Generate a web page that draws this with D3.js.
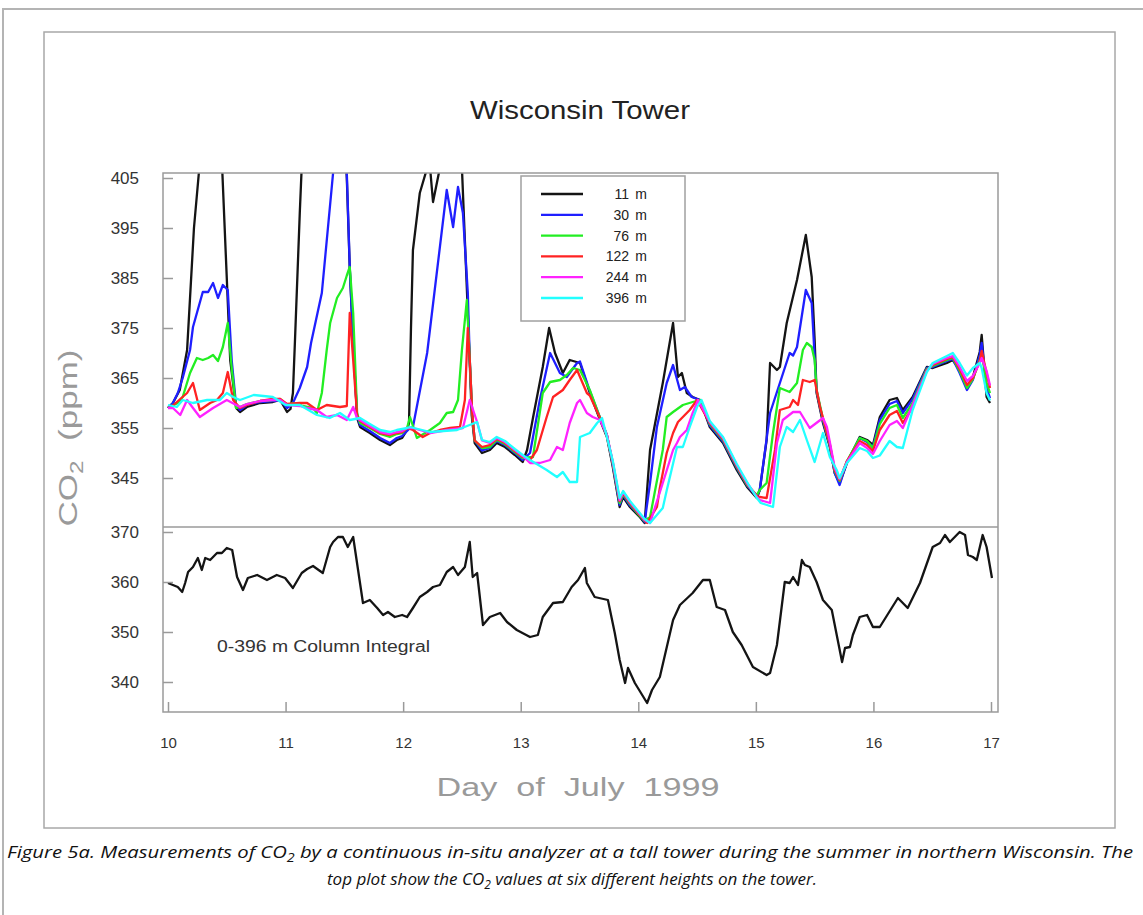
<!DOCTYPE html>
<html>
<head>
<meta charset="utf-8">
<script src="https://cdn.jsdelivr.net/npm/d3@7/dist/d3.min.js"></script>
<style>
  body { margin: 0; background: #fff; }
  svg { display: block; font-family: "Liberation Sans", Arial, Helvetica, sans-serif; }
</style>
</head>
<body>
<svg id="chart" width="1143" height="915"></svg>
<script>
// ---- data: [hours since July 10 00:00, CO2 ppm] ----
const dayTicks = [10, 11, 12, 13, 14, 15, 16, 17];
const topTicks = [345, 355, 365, 375, 385, 395, 405];
const bottomTicks = [340, 350, 360, 370];
const heights = ["11 m", "30 m", "76 m", "122 m", "244 m", "396 m"];
const colors = ["#141414", "#1f1fff", "#22ee22", "#ff2222", "#ff22ff", "#22ffff"];

const s11m = [[0,359],[1,360],[2.4,362.6],[3.9,370.6],[5.3,395],[6.3,406],[7,415],[9,425],[10.5,415],[11.1,406],[12.7,368.6],[13.9,359],[14.7,358.2],[16.1,359.2],[18.8,360],[21.4,360.2],[22.9,360.6],[24.3,358.2],[25,358.8],[25.5,362],[25.9,372],[26.9,398],[27.5,412],[28.5,425],[30,430],[33,435],[35.5,425],[36.5,405],[37.1,387],[37.8,372],[38.6,357],[39.2,355.2],[41.2,354],[43.3,352.6],[45.3,351.6],[46.7,352.6],[47.8,353],[48.8,354.6],[49.2,356],[49.6,375],[50,390.6],[51.4,402],[52.9,407],[53.5,407],[54.1,400.2],[55.5,407],[57,420],[59,420],[60,407],[61,383],[61.6,368],[62,357.5],[62.6,352],[64.1,350],[65.7,350.6],[67.1,352],[68.8,351.2],[70.8,349.6],[72.4,348.2],[73.3,350.6],[74.5,357],[76.5,367.2],[77.8,375],[79,370],[80.6,366],[82,368.6],[84.1,368],[86.1,362],[88.2,356.6],[89.6,353.2],[90.8,347.2],[92.2,339.2],[92.9,341.2],[94.3,339.2],[96.3,337.2],[97.3,336],[98.4,350.6],[101,364],[103.1,376],[104.1,365.2],[104.9,366],[105.9,362],[107.1,361.2],[108.6,360.6],[110.6,355.2],[113.3,352],[116.1,346.6],[118.2,343.2],[120.2,341],[120.8,342.6],[122.2,352.6],[122.9,368],[124.3,366.6],[124.9,367.2],[126.3,376],[128.4,384.6],[130.2,393.6],[131.4,385.2],[132,372.6],[132.4,362],[133.7,356],[135.1,351.2],[136.1,346],[137.1,344],[138.6,348],[141.2,353.2],[142.7,352.6],[143.9,351.6],[145.3,357.2],[147.3,360.6],[148.8,361],[150,358.6],[152,361.2],[154.9,367.2],[156.1,367],[159,368],[160.2,368.6],[161.6,366.6],[163.1,363.2],[164.3,365.2],[165.7,370.2],[166.1,373.6],[167.1,361.2],[167.8,360]];

const s30m = [[0,359],[1,360],[2,362],[3,365],[4.5,370.6],[5.1,375.2],[7.1,382.2],[8.2,382.2],[9.2,384],[10.2,381],[11.2,383.6],[12.2,382.6],[13,368.6],[13.9,359.5],[14.7,358.6],[16.1,359.6],[18.8,360.2],[21.4,360.4],[22.9,360.6],[24.3,359],[25.5,360],[26.9,363],[28.4,367.2],[29.2,372],[31.4,382],[33.7,406],[35,415],[36.5,406],[37.1,387.2],[37.8,372],[38.6,357.5],[39.2,355.6],[41.2,354.4],[43.3,353],[45.3,352],[46.7,353],[47.8,353.4],[48.8,354.4],[49.4,355],[50,355.2],[52.9,370],[56.9,402.6],[58.2,395.2],[59.2,403.2],[60.2,398],[61.2,382],[61.6,368.6],[62.1,358],[62.6,352.5],[64.1,350.5],[65.7,351],[67.1,352.4],[68.8,351.6],[70.8,350],[72.4,348.6],[73.9,350],[75.9,360.6],[78,370],[80,366],[81.4,365.2],[83.5,368],[84.1,368.3],[86.1,362.4],[88.2,357],[89.6,353.6],[90.8,347.6],[92.2,339.6],[92.9,341.6],[94.3,339.5],[96.3,337.5],[97.3,336.2],[98.4,344],[99.8,355.2],[101.8,364],[103.1,367.6],[104.5,362.6],[105.5,363.2],[106.9,361.2],[108.6,360.6],[110.6,355.5],[113.3,352.3],[116.1,347],[118.2,343.5],[120.2,341.3],[120.8,342.6],[122.9,358],[124.9,364],[126.9,370],[127.6,369.5],[128.4,371.2],[130.2,382.6],[131.4,380],[132,369.2],[132.4,362.4],[133.7,356.4],[135.1,351.4],[136.1,346],[137.1,343.6],[138.6,348.2],[141.2,353],[142.7,352.2],[143.9,351.2],[145.3,356.6],[147.3,359.8],[148.8,360.4],[150,358],[152,360.8],[154.9,367],[156.1,367.2],[159,368.4],[160.2,368.8],[161.6,366],[163.1,362.6],[164.3,364.6],[165.7,369.6],[166.1,372],[167.1,363],[167.8,361]];

const s76m = [[0,359],[1,359.5],[2,360],[3,361.2],[4.5,366],[5.9,369],[7.1,368.6],[8.2,369],[9.2,369.6],[10.2,368.4],[11.2,371.2],[12.2,376],[13,367],[13.9,359],[14.7,359.2],[16.1,359.8],[18.8,360.4],[21.4,360.6],[22.9,360.8],[24.3,359.6],[25.5,360],[27.3,359.5],[29.6,359],[30.4,358],[31.4,362],[32.4,370.6],[33.1,376],[34.5,381],[35.7,383],[36.5,385.5],[37.1,387.2],[37.8,378],[38.6,358],[39.2,356],[41.2,355],[43.3,353.8],[45.3,353.2],[46.7,353.8],[47.8,354],[48.8,355],[49.4,357.2],[50.8,353],[53.5,354.6],[55.5,356],[56.9,358],[58.2,358.2],[59.2,360.6],[60,370.6],[61,380.6],[61.6,368.6],[62.1,358],[62.6,352.5],[64.1,351],[65.7,351.2],[67.1,352.6],[68.8,351.8],[70.8,350.2],[72.4,349],[74.5,349.2],[76.5,362],[78,364.2],[80,364.6],[81.4,365.6],[82.7,367],[84.1,366.6],[86.1,362.6],[88.2,357],[89.6,353.5],[90.8,347.8],[92.2,340],[92.9,341.8],[94.3,339.8],[96.3,337.4],[97.3,336.4],[98.4,337.2],[101,350.6],[101.8,357.2],[103.1,358.2],[105.1,359.6],[107.1,360.2],[108.6,360.6],[110.6,355.8],[113.3,352.6],[116.1,347.2],[118.2,343.6],[120.2,341.6],[120.8,342.6],[122.2,344],[123.5,354],[124.9,363],[126.9,362.2],[128.4,364],[129.6,370.6],[130.4,372],[131.4,371.2],[132,368.6],[132.4,362.6],[133.7,356.8],[135.1,351.6],[136.1,346.4],[137.1,344.4],[138.6,348.4],[141.2,353],[142.7,352.4],[143.9,351],[145.3,355.8],[147.3,359],[148.8,359.6],[150,357],[152,360],[154.9,366.8],[156.1,367.4],[159,368.6],[160.2,369],[161.6,366.4],[163.1,363],[164.3,364.8],[165.7,368.6],[166.1,370],[167.1,364],[167.8,362]];

const s122m = [[0,359],[1,359.5],[3.9,362],[5.1,364],[6.5,358.6],[8.6,360],[10,360.6],[11.2,362],[12.2,366.2],[13.3,360.6],[14.7,359],[16.1,359.6],[18.8,360.4],[21.4,360.8],[22.9,360.8],[24.3,359.8],[26.9,360],[28.4,360],[30.4,358.6],[32.4,359.6],[35.1,359.2],[36.5,359.4],[37.1,378],[37.8,368.6],[38.6,357.5],[39.2,356.4],[41.2,355.2],[43.3,354],[45.3,353.6],[46.7,354],[47.8,354.2],[48.8,355],[50,354.6],[52,353.2],[53.5,354],[55.5,354.6],[57.6,355],[59.6,355.2],[60.6,360.6],[61.2,375],[61.6,368.6],[62.1,358],[62.6,352.5],[64.1,351.2],[65.7,351.6],[67.1,352.8],[68.8,352],[70.8,350.4],[72.4,349.2],[73.9,348.6],[75.3,350.6],[77.3,357.2],[78.6,361.2],[80.6,362.6],[82,364.6],[83.5,366.6],[85.5,362],[86.1,361.5],[88.2,357],[89.6,353.5],[90.8,348],[92.2,340.4],[92.9,342],[94.3,340],[96.3,337.6],[97.8,336],[99.8,339.2],[100.4,343],[101.8,350],[103.1,354],[104.1,356.2],[105.1,357.2],[106.5,358.6],[108,360.6],[110.6,356],[113.3,352.8],[116.1,347.4],[118.2,343.8],[120.2,341.4],[120.8,341.2],[122.2,341],[123.9,350.6],[124.9,358.6],[126.9,359.2],[127.6,360.6],[128.6,359.6],[129.6,364.6],[131,364.2],[132,364.6],[133.1,359.2],[133.7,357],[135.1,351.8],[136.1,346.6],[137.1,344.6],[138.6,348.4],[141.2,352.4],[142.7,351.6],[143.9,350.4],[145.3,354.6],[147.3,357.6],[148.8,358.4],[150,356],[152,359.2],[154.9,366.6],[156.1,367.6],[159,368.8],[160.2,369.2],[161.6,366.8],[163.1,363.6],[164.3,365],[165.7,368.4],[166.1,370.4],[167.1,366],[167.8,363]];

const s244m = [[0,359],[1,359],[2.5,357.6],[3.9,360.6],[5.1,359],[6.5,357.2],[9.2,359],[12,360.6],[14.7,359.2],[16.1,359.8],[18.8,360.4],[21.4,360.6],[22.9,360.6],[24.3,359.6],[26.9,359.4],[28.4,359],[30.4,358.6],[32.4,357.2],[34.5,357.6],[36.5,356.6],[37.8,359.2],[38.6,357],[39.2,356.6],[41.2,355.4],[43.3,354.2],[45.3,353.8],[46.7,354.2],[47.8,354.4],[48.8,355],[50,355],[53.5,354],[57,354.6],[60.2,355],[61.6,360.6],[63.1,356.2],[64.1,352.5],[65.7,352],[67.1,353],[68.8,352.2],[70.8,350.6],[72.4,349.4],[73.9,348],[75.9,348],[78,348.6],[79.4,351.2],[80.6,350.6],[82,356],[83.5,360],[84.1,360.6],[85.5,358],[86.7,357.2],[88.2,356.6],[89.6,353.6],[90.8,348.2],[92.2,340.6],[92.9,342.2],[94.3,340.2],[96.3,337.8],[97.3,336.6],[98.4,336],[101,344],[101.8,346.5],[103.1,350.6],[103.9,352],[104.5,353.2],[105.9,354.6],[107.1,358],[108.2,360.6],[110.6,356.2],[113.3,353],[116.1,347.6],[118.2,344],[120.2,341.2],[120.8,340.6],[122.9,340],[124.3,352],[125.5,356.6],[127.6,358.2],[129,358.2],[131,355],[133.7,357],[134.5,355.2],[135.1,352.2],[136.1,347],[137.1,344.8],[138.6,348.2],[141.2,352],[142.7,351],[143.9,349.8],[145.3,352.4],[147.3,355.6],[148.8,356.4],[150,355],[152,359.6],[154.9,366.4],[156.1,367.8],[159,369],[160.2,369.4],[161.6,367.2],[163.1,364.4],[164.3,365.4],[165.7,368],[166.1,369],[167.1,366.4],[167.8,363.5]];

const s396m = [[0,359.6],[1.8,359.2],[3,360.6],[5.1,360],[8,360.6],[10.6,360.6],[12,362],[13.3,361.2],[14.7,360.6],[17.5,361.6],[21.4,361.2],[24,359.6],[26.9,359.6],[30.4,357.6],[33,357],[35.1,358],[37.1,356.6],[39.2,357],[41.2,355.8],[43.3,354.6],[45.3,354.2],[46.7,354.6],[47.8,354.8],[48.8,355],[49.4,355.2],[53.5,354.2],[59,354.6],[63.1,356.2],[64.1,352.6],[65.7,352.2],[67.1,353.2],[68.8,352.4],[70.8,350.8],[72.4,349.6],[73.9,348.6],[77.3,346.6],[79.4,345.2],[80.6,346.2],[82,344.2],[83.5,344.2],[84.1,353.2],[86.1,354],[87.6,356],[88.6,357],[89.6,353.2],[90.8,348.4],[92.2,341],[92.9,342.4],[94.3,340.4],[96.3,338],[97.3,336.8],[98.4,336],[101,339],[101.8,342.5],[103.9,351.2],[105.1,351.2],[106.5,355.2],[108,359.2],[108.9,360.6],[110.6,356.4],[113.3,353.2],[116.1,347.8],[118.2,344.2],[120.2,341],[121,340],[123.5,339.2],[124.9,351.2],[126.3,355.2],[127.6,354.2],[129,356.6],[130.4,352.6],[132,348.2],[133.7,354],[135.1,349.2],[136.5,346.6],[137.1,345],[138.6,348],[141.2,351],[142.7,350.4],[143.9,349],[145.3,349.5],[147.3,352.4],[148.8,351.2],[150,351],[152,358.6],[154.9,366.2],[156.1,368],[159,369.4],[160.2,370],[161.6,368],[163.1,365.5],[164.3,367],[165.7,368],[166.1,367],[167.1,362],[167.8,360.5]];

const columnIntegral = [[0,359.8],[1,359.4],[2,359],[2.9,358],[3.5,359.8],[4.1,362],[5.1,363],[6.1,364.8],[6.9,362.4],[7.6,364.8],[8.6,364.4],[10,365.8],[11,365.8],[12,366.8],[13.1,366.4],[14.1,361],[15.3,358.4],[16.3,360.8],[18.2,361.4],[20.2,360.4],[22.2,361.4],[23.9,360.8],[25.5,358.8],[27.3,361.8],[28.4,362.6],[29.6,363.2],[31.6,361.8],[33.1,367],[33.7,368],[34.7,369],[35.7,369],[36.7,367],[37.8,369],[38.8,362.4],[39.8,355.8],[41.2,356.4],[42.7,354.8],[43.9,353.4],[44.9,354],[46.3,353],[47.8,353.4],[48.8,353],[50,354.8],[51.4,357],[52.9,358],[54.1,359],[55.5,359.4],[56.9,362],[58.2,363],[59.2,361.4],[60.6,363],[61.6,368],[62.2,361],[63.1,361.8],[64.3,351.4],[65.7,353],[67.8,353.8],[69.2,352],[71.2,350.4],[73.9,349],[75.5,349.4],[76.5,353],[78.6,355.8],[80.6,356],[82.4,359],[83.7,360.4],[85.1,362.8],[85.5,359.8],[87.1,357],[89.8,356.4],[91.2,349.8],[92.2,344.4],[93.3,339.8],[93.9,342.8],[95.3,339.8],[97.8,335.8],[98.8,338.4],[100.4,341],[103.1,352.4],[104.5,355.4],[107.1,357.8],[109.2,360.4],[110.6,360.4],[112,355],[113.7,354.4],[115.3,350],[117.1,347.4],[119.4,343],[122.2,341.4],[122.9,341.8],[124.3,347.4],[125.9,360],[126.9,359.8],[127.6,361],[128.6,359.4],[129.4,364.4],[130,363.4],[131,363],[132.4,360],[133.7,356.4],[135.5,354.4],[137.6,344],[138.2,346.8],[139.2,347],[139.8,349.4],[141.2,353],[142.7,353.4],[143.9,351],[145.3,351],[149,356.8],[151,354.8],[153.5,359.8],[156.1,367],[157.6,367.8],[158.6,369.4],[159.6,368],[161.6,370],[162.7,369.4],[163.3,365.4],[164.3,365],[165.1,364.4],[166.3,369.4],[167.1,367],[168.2,360.8]];

const topSeries = [s11m, s30m, s76m, s122m, s244m, s396m];

// ---- layout ----
const svg = d3.select("#chart");
const L = 163, R = 998, T = 173, MID = 527, B = 712;

const x = d3.scaleLinear().domain([10, 17]).range([168, 991]);
const yTop = d3.scaleLinear().domain([345, 405]).range([478, 178]);
const yBot = d3.scaleLinear().domain([340, 370]).range([682, 532]);
const toDay = h => 10 + h / 24;

// outer page frame and figure box
svg.append("rect").attr("x", 3).attr("y", 9).attr("width", 1200).attr("height", 1000)
  .attr("fill", "none").attr("stroke", "#b4b4b4").attr("stroke-width", 2);
svg.append("rect").attr("x", 44).attr("y", 32).attr("width", 1071).attr("height", 796)
  .attr("fill", "#fff").attr("stroke", "#a8a8a8").attr("stroke-width", 1.5);

// title
svg.append("text").attr("x", 580).attr("y", 119).attr("text-anchor", "middle")
  .attr("font-size", 26).attr("fill", "#222").attr("textLength", 220)
  .attr("lengthAdjust", "spacingAndGlyphs").text("Wisconsin Tower");

// clip paths
const defs = svg.append("defs");
defs.append("clipPath").attr("id", "clipTop").append("rect")
  .attr("x", L).attr("y", T).attr("width", R - L).attr("height", MID - T);
defs.append("clipPath").attr("id", "clipBot").append("rect")
  .attr("x", L).attr("y", MID).attr("width", R - L).attr("height", B - MID);

// top panel lines
const lineTop = d3.line().x(d => x(toDay(d[0]))).y(d => yTop(d[1]));
const gTop = svg.append("g").attr("clip-path", "url(#clipTop)");
topSeries.forEach((s, i) => {
  gTop.append("path").datum(s).attr("d", lineTop)
    .attr("fill", "none").attr("stroke", colors[i]).attr("stroke-width", 2.3)
    .attr("stroke-linejoin", "round");
});

// bottom panel line
const lineBot = d3.line().x(d => x(toDay(d[0]))).y(d => yBot(d[1]));
svg.append("g").attr("clip-path", "url(#clipBot)").append("path")
  .datum(columnIntegral).attr("d", lineBot)
  .attr("fill", "none").attr("stroke", "#141414").attr("stroke-width", 2.3)
  .attr("stroke-linejoin", "round");

// frames
const frameColor = "#9a9a9a";
svg.append("rect").attr("x", L).attr("y", T).attr("width", R - L).attr("height", B - T)
  .attr("fill", "none").attr("stroke", frameColor).attr("stroke-width", 1.5);
svg.append("line").attr("x1", L).attr("x2", R).attr("y1", MID).attr("y2", MID)
  .attr("stroke", frameColor).attr("stroke-width", 1.5);

// axes
function styleAxis(g, fs) {
  g.attr("font-family", null).attr("font-size", null);
  g.select(".domain").remove();
  g.selectAll(".tick line").attr("stroke", frameColor).attr("stroke-width", 1.5);
  g.selectAll(".tick text").attr("fill", "#333").style("font-size", fs + "px")
    .style("font-family", "'Liberation Sans', Arial, sans-serif");
}
svg.append("g").attr("transform", `translate(${L},0)`)
  .call(d3.axisLeft(yTop).tickValues(topTicks).tickSize(-10).tickPadding(24).tickFormat(d3.format("d")))
  .call(g => styleAxis(g, 17));
svg.append("g").attr("transform", `translate(${L},0)`)
  .call(d3.axisLeft(yBot).tickValues(bottomTicks).tickSize(-10).tickPadding(24).tickFormat(d3.format("d")))
  .call(g => styleAxis(g, 17));
svg.append("g").attr("transform", `translate(0,${B})`)
  .call(d3.axisBottom(x).tickValues(dayTicks).tickSize(-10).tickPadding(25).tickFormat(d3.format("d")))
  .call(g => styleAxis(g, 15));

// axis titles
svg.append("text").attr("x", 578).attr("y", 796).attr("text-anchor", "middle")
  .attr("font-size", 26).attr("fill", "#9a9a9a").attr("textLength", 283)
  .attr("lengthAdjust", "spacingAndGlyphs").style("white-space", "pre")
  .text("Day  of  July  1999");

const yt = svg.append("text").attr("transform", "translate(77,438) rotate(-90)")
  .attr("text-anchor", "middle").attr("font-size", 26).attr("fill", "#9a9a9a")
  .attr("textLength", 177).attr("lengthAdjust", "spacingAndGlyphs").style("white-space", "pre");
yt.append("tspan").text("CO");
yt.append("tspan").attr("font-size", 18).attr("dy", 6).text("2");
yt.append("tspan").attr("dy", -6).text("  (ppm)");

// annotation in bottom panel
svg.append("text").attr("x", 217).attr("y", 652).attr("font-size", 16).attr("fill", "#333")
  .attr("textLength", 213).attr("lengthAdjust", "spacingAndGlyphs")
  .text("0-396 m Column Integral");

// legend
const lg = svg.append("g");
lg.append("rect").attr("x", 521).attr("y", 176).attr("width", 164).attr("height", 145)
  .attr("fill", "#fff").attr("stroke", "#a0a0a0").attr("stroke-width", 1.5);
const rowY = d3.scalePoint().domain(heights).range([194, 298]);
heights.forEach((h, i) => {
  lg.append("line").attr("x1", 541).attr("x2", 583)
    .attr("y1", rowY(h)).attr("y2", rowY(h))
    .attr("stroke", colors[i]).attr("stroke-width", 2.3);
  const parts = h.split(" ");
  lg.append("text").attr("x", 629).attr("y", rowY(h) + 5).attr("text-anchor", "end")
    .attr("font-size", 14).attr("fill", "#222").text(parts[0]);
  lg.append("text").attr("x", 647).attr("y", rowY(h) + 5).attr("text-anchor", "end")
    .attr("font-size", 14).attr("fill", "#222").text(parts[1]);
});

// caption
const capFont = "'Open Sans', 'Noto Sans', sans-serif";
const c1 = svg.append("text").attr("x", 570).attr("y", 858).attr("text-anchor", "middle")
  .style("font-size", "17px").style("font-style", "italic").attr("fill", "#111")
  .style("font-family", capFont).attr("textLength", 1126).attr("lengthAdjust", "spacingAndGlyphs");
c1.append("tspan").text("Figure 5a. Measurements of CO");
c1.append("tspan").style("font-size", "12px").attr("dy", 4).text("2");
c1.append("tspan").attr("dy", -4).text(" by a continuous in-situ analyzer at a tall tower during the summer in northern Wisconsin. The");
const c2 = svg.append("text").attr("x", 572).attr("y", 885).attr("text-anchor", "middle")
  .style("font-size", "17px").style("font-style", "italic").attr("fill", "#111")
  .style("font-family", capFont).attr("textLength", 490).attr("lengthAdjust", "spacingAndGlyphs");
c2.append("tspan").text("top plot show the CO");
c2.append("tspan").style("font-size", "12px").attr("dy", 4).text("2");
c2.append("tspan").attr("dy", -4).text(" values at six different heights on the tower.");
</script>
</body>
</html>
